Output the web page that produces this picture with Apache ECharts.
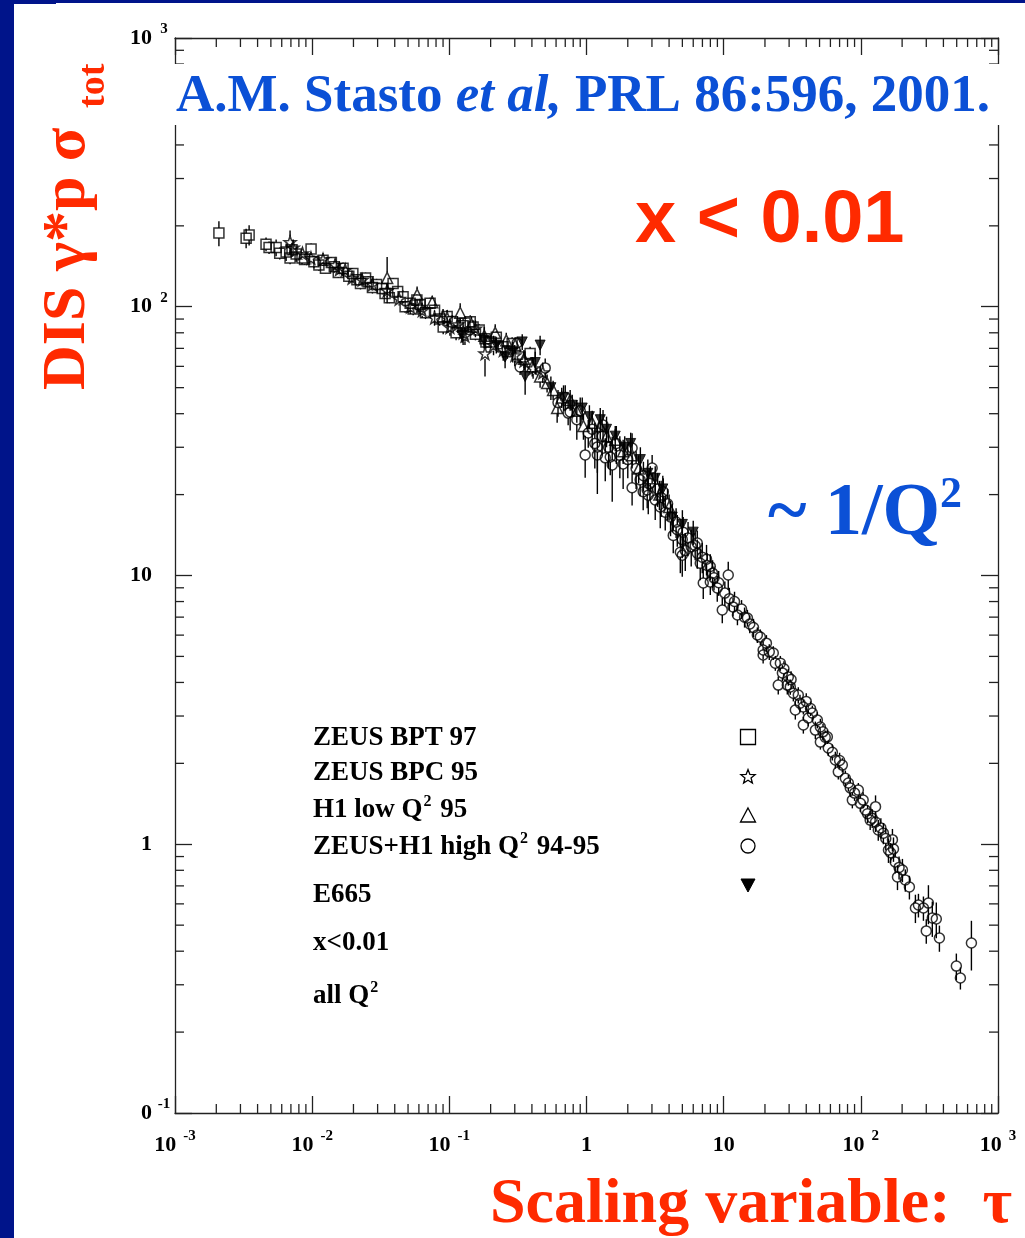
<!DOCTYPE html>
<html>
<head>
<meta charset="utf-8">
<script src="https://cdn.jsdelivr.net/npm/echarts@6/dist/echarts.min.js"></script>
<style>
  html, body { margin: 0; padding: 0; background: #ffffff; }
  #chart { width: 1025px; height: 1238px; }
</style>
</head>
<body>
<div id="chart"></div>
<script>
// Tick labels, one per decade (base text and superscript)
const xTickBase = ['10', '10', '10', '1', '10', '10', '10'];
const xTickSup  = ['-3', '-2', '-1', '', '', '2', '3'];
const yTickBase = ['0', '1', '10', '10', '10'];
const yTickSup  = ['-1', '', '', '2', '3'];

// Measurements: [tau, sigma_tot (micro-barn), error]
const bptData = [
  [0.00209, 188, 20], [0.0033, 180, 15], [0.00347, 185, 16], [0.00461, 171, 10], [0.00485, 166, 9],
  [0.00546, 166, 12], [0.0058, 158, 8], [0.00646, 160, 12], [0.0069, 152, 8], [0.00713, 163, 10],
  [0.00764, 157, 10], [0.00843, 152, 8], [0.0088, 150, 7], [0.00982, 164, 8], [0.0103, 147, 8],
  [0.0112, 143, 7], [0.012, 149, 7], [0.0125, 139, 6], [0.0138, 146, 7], [0.0145, 141, 7],
  [0.0155, 134, 6], [0.0168, 139, 7], [0.0185, 130, 6], [0.0198, 133, 6], [0.0212, 126, 6],
  [0.0225, 122, 6], [0.0245, 128, 6], [0.0256, 124, 6], [0.0275, 118, 6], [0.0295, 121, 6],
  [0.0324, 117, 6], [0.034, 112, 5], [0.0365, 108, 5], [0.0389, 122, 6], [0.042, 114, 5],
  [0.046, 109, 6], [0.0476, 100, 5], [0.0518, 103, 5], [0.0545, 98, 5], [0.058, 106, 5],
  [0.0612, 102, 5], [0.067, 95, 5], [0.0724, 103, 5], [0.078, 97, 5], [0.085, 90, 5],
  [0.0902, 84, 5], [0.0964, 92, 5], [0.105, 88, 5], [0.112, 80, 5], [0.126, 85, 5],
  [0.13, 87, 5], [0.142, 88, 5], [0.149, 84, 5], [0.155, 79, 4], [0.165, 82, 4],
  [0.182, 76, 4], [0.185, 74, 4], [0.2, 74, 4], [0.22, 77, 4], [0.247, 71, 4],
  [0.265, 68, 4], [0.287, 73, 4], [0.328, 65, 4], [0.388, 67, 4]
];
const bpcData = [
  [0.0069, 174, 18], [0.00726, 166, 12], [0.0085, 158, 8], [0.0098, 152, 8], [0.012, 150, 8],
  [0.0147, 143, 8], [0.0158, 138, 7], [0.0174, 137, 7], [0.0195, 128, 6], [0.0231, 126, 7],
  [0.0275, 121, 6], [0.0352, 115, 6], [0.043, 107, 6], [0.052, 100, 6], [0.0612, 100, 6],
  [0.0634, 97, 6], [0.078, 91, 6], [0.0964, 91, 6], [0.101, 84, 6], [0.115, 86, 6],
  [0.126, 80, 8], [0.13, 78, 6], [0.155, 83, 6], [0.182, 67, 12], [0.21, 72, 6],
  [0.247, 69, 6], [0.3, 66, 6], [0.35, 63, 5], [0.408, 59, 5], [0.48, 57, 5]
];
const h1LowData = [
  [0.0352, 128, 25], [0.0582, 111, 8], [0.075, 104, 6], [0.09, 92, 6], [0.12, 95, 8],
  [0.145, 86, 6], [0.18, 78, 6], [0.216, 80, 6], [0.26, 75, 5], [0.302, 72, 5],
  [0.35, 64, 5], [0.402, 60, 5], [0.459, 55, 5], [0.516, 52, 4], [0.571, 49, 4],
  [0.611, 42, 5], [0.66, 46, 4], [0.76, 45, 4], [0.85, 41, 4], [0.95, 36, 4],
  [1.1, 37, 4], [1.26, 36, 4], [1.4, 33, 3], [1.62, 32, 3], [1.85, 29, 3],
  [2.15, 28, 3], [2.4, 25, 3], [2.92, 23, 2.5], [3.4, 20, 2.5], [4.0, 18, 2]
];
const highQ2Data = [
  [0.312, 73.3, 4], [0.328, 59.7, 4], [0.5, 59.2, 5], [0.62, 44, 5], [0.7, 46, 5],
  [0.735, 40.2, 4], [0.76, 40.6, 6], [0.85, 38, 6], [0.9, 41, 5], [0.978, 28.1, 5],
  [1.03, 33.9, 4], [1.1, 35, 5], [1.15, 31, 6], [1.2, 30.1, 6], [1.2, 28.1, 8],
  [1.3, 33, 5], [1.32, 36.3, 5], [1.37, 27.4, 5], [1.45, 30, 5], [1.49, 27.6, 4],
  [1.54, 25.8, 7], [1.65, 31, 5], [1.75, 28, 5], [1.85, 26, 5], [2.0, 27, 4],
  [2.15, 29.8, 4], [2.15, 21.2, 3], [2.3, 25, 4], [2.46, 22.7, 3], [2.59, 20.5, 3],
  [2.6, 23.5, 3], [2.77, 20.8, 3], [2.82, 19.9, 3], [2.9, 22, 3], [3.01, 25.1, 3],
  [3.17, 19.1, 3], [3.3, 21, 3], [3.45, 18.0, 3], [3.5, 19.5, 3], [3.63, 20.5, 2.5],
  [3.75, 17.2, 2.5], [3.9, 18.5, 2.5], [4.1, 16.5, 2.5], [4.29, 14.1, 2], [4.5, 15.8, 2],
  [4.59, 14.8, 2], [4.83, 12.2, 2], [4.99, 13.6, 2], [4.99, 11.9, 2], [5.07, 14.5, 2],
  [5.25, 12.4, 2], [5.5, 13.8, 2], [5.8, 12.8, 2], [6.2, 12.9, 1.5], [6.42, 12.1, 1.5],
  [6.42, 13.2, 1.5], [6.75, 11.1, 1.5], [6.98, 11.7, 1.5], [7.1, 9.38, 1.2], [7.5, 11.5, 1.5],
  [7.59, 10.9, 1.2], [7.99, 10.8, 1.2], [7.99, 9.46, 1], [8.3, 10.2, 1.2], [8.5, 9.8, 1],
  [8.98, 8.98, 1], [9.2, 9.4, 1], [9.77, 7.44, 0.8], [10.2, 8.6, 0.9], [10.8, 10.04, 1.2],
  [11.0, 8.2, 0.8], [11.7, 7.64, 0.6], [12.0, 8.0, 0.7], [12.6, 7.13, 0.6], [13.5, 7.5, 0.6],
  [14.2, 7.0, 0.6], [14.9, 6.95, 0.5], [15.5, 6.6, 0.5], [16.5, 6.4, 0.5], [17.6, 6.01, 0.4],
  [18.5, 5.9, 0.4], [19.4, 5.28, 0.4], [19.4, 5.06, 0.35], [20.5, 5.6, 0.4], [21.5, 5.2, 0.35],
  [23.0, 5.15, 0.3], [23.8, 4.72, 0.3], [25.0, 3.91, 0.3], [25.9, 4.72, 0.3], [26.8, 4.34, 0.3],
  [27.5, 4.5, 0.3], [29.1, 3.91, 0.3], [29.6, 4.19, 0.3], [30.6, 3.85, 0.25], [31.0, 4.1, 0.3],
  [32.2, 3.65, 0.25], [33.3, 3.16, 0.25], [35.0, 3.59, 0.25], [36.0, 3.35, 0.25], [38.1, 3.24, 0.2],
  [38.1, 2.78, 0.2], [40.0, 3.4, 0.25], [41.4, 2.95, 0.2], [43.0, 3.2, 0.2], [44.3, 3.08, 0.2],
  [46.6, 2.66, 0.2], [48.2, 2.9, 0.2], [50.7, 2.73, 0.2], [50.7, 2.4, 0.15], [53.0, 2.62, 0.18],
  [55.0, 2.5, 0.15], [57.0, 2.51, 0.15], [57.9, 2.28, 0.15], [62.0, 2.2, 0.15], [65.2, 2.06, 0.15],
  [68.5, 1.86, 0.12], [70.0, 2.05, 0.14], [73.3, 1.97, 0.12], [77.1, 1.76, 0.12], [81.1, 1.69, 0.12],
  [83.8, 1.62, 0.12], [86.7, 1.46, 0.1], [90.0, 1.55, 0.1], [95.9, 1.59, 0.1], [99.2, 1.42, 0.1],
  [104, 1.46, 0.1], [108, 1.34, 0.1], [112, 1.3, 0.1], [117, 1.23, 0.1], [121, 1.25, 0.1],
  [128, 1.21, 0.1], [128, 1.38, 0.14], [134, 1.13, 0.1], [140, 1.15, 0.1], [146, 1.10, 0.1],
  [152, 1.05, 0.1], [159, 0.952, 0.1], [165, 0.93, 0.08], [170, 1.04, 0.1], [173, 0.96, 0.1],
  [178, 0.859, 0.08], [185, 0.755, 0.08], [190, 0.82, 0.08], [201, 0.802, 0.08], [211, 0.736, 0.07],
  [226, 0.693, 0.07], [250, 0.579, 0.07], [263, 0.594, 0.06], [286, 0.579, 0.06], [300, 0.476, 0.05],
  [311, 0.604, 0.1], [332, 0.532, 0.08], [355, 0.527, 0.08], [374, 0.448, 0.05], [497, 0.352, 0.04],
  [532, 0.318, 0.03], [640, 0.429, 0.09]
];
const e665Data = [
  [0.124, 78.5, 5], [0.179, 75, 5], [0.22, 72, 5], [0.255, 65, 6], [0.29, 68, 6],
  [0.34, 74, 5], [0.357, 55, 8], [0.423, 62, 6], [0.459, 72, 6], [0.55, 50, 5],
  [0.68, 46, 5], [0.787, 43, 4], [0.931, 42, 4], [1.05, 39, 4], [1.26, 38, 4],
  [1.4, 35, 4], [1.62, 33, 3], [1.9, 30, 3], [2.1, 31, 3], [2.47, 27, 3],
  [2.8, 24, 3], [3.17, 23, 2.5], [3.6, 21, 2.5], [4.22, 16.5, 2], [5.0, 15.5, 2], [6.0, 14.5, 1.5]
];

// Legend entries (rich text, 's' marks a superscript)
const legendLabels = ['ZEUS BPT 97', 'ZEUS BPC 95', 'H1 low Q{s|2} 95', 'ZEUS+H1 high Q{s|2} 94-95', 'E665', 'x<0.01', 'all Q{s|2}'];

const SERIF = '"Liberation Serif", "Times New Roman", serif';
const SANS = '"Liberation Sans", Arial, sans-serif';
const RED = '#ff2a00';
const BLUE = '#0b50d6';
const NAVY = '#00148a';
const AXIS = '#222222';
const STAR = 'path://M0,-10L2.35,-3.24L9.51,-3.09L3.8,1.24L5.88,8.09L0,4.2L-5.88,8.09L-3.8,1.24L-9.51,-3.09L-2.35,-3.24Z';

// Minor tick positions for the decades on each axis
const decadeSteps = [2, 3, 4, 5, 6, 7, 8, 9];
const xDecades = [0.001, 0.01, 0.1, 1, 10, 100];
const yDecades = [0.1, 1, 10, 100];
const xMinor = [];
xDecades.forEach(d => decadeSteps.forEach(m => xMinor.push([m * d, 1])));
const yMinor = [];
yDecades.forEach(d => decadeSteps.forEach(m => yMinor.push([1, m * d])));

function decadeIndex(v, lowExp) {
  return Math.round(Math.log10(v)) - lowExp;
}

const tickRich = {
  b: { fontFamily: SERIF, fontWeight: 'bold', fontSize: 22, color: '#000', lineHeight: 32 },
  s: { fontFamily: SERIF, fontWeight: 'bold', fontSize: 15, color: '#000', lineHeight: 16, verticalAlign: 'top', padding: [0, 0, 0, 7] }
};
const yTickRich = {
  b: tickRich.b,
  s: { fontFamily: SERIF, fontWeight: 'bold', fontSize: 15, color: '#000', lineHeight: 16, verticalAlign: 'top', padding: [0, 0, 0, 6], width: 12, align: 'left' }
};

function xLabel(v) {
  const i = decadeIndex(v, -3);
  return xTickSup[i] ? '{b|' + xTickBase[i] + '}{s|' + xTickSup[i] + '}' : '{b|' + xTickBase[i] + '}';
}
function yLabel(v) {
  const i = decadeIndex(v, -1);
  return '{b|' + yTickBase[i] + '}{s|' + (yTickSup[i] || ' ') + '}';
}

function baseAxis(extra) {
  return Object.assign({
    type: 'log', logBase: 10,
    axisLine: { show: true, onZero: false, lineStyle: { color: AXIS, width: 1.3 } },
    axisTick: { show: true, inside: true, length: 17, lineStyle: { color: AXIS, width: 1.3 } },
    splitLine: { show: false },
    minorTick: { show: false },
    silent: true
  }, extra);
}

function minorTickItem(isX) {
  return function (params, api) {
    const cs = params.coordSys;
    const len = 9;
    const st = { stroke: AXIS, lineWidth: 1.3 };
    if (isX) {
      const px = api.coord([api.value(0), 1])[0];
      const top = cs.y, bot = cs.y + cs.height;
      return { type: 'group', children: [
        { type: 'line', shape: { x1: px, y1: bot, x2: px, y2: bot - len }, style: st },
        { type: 'line', shape: { x1: px, y1: top, x2: px, y2: top + len }, style: st }
      ] };
    }
    const py = api.coord([1, api.value(1)])[1];
    const l = cs.x, r = cs.x + cs.width;
    return { type: 'group', children: [
      { type: 'line', shape: { x1: l, y1: py, x2: l + len, y2: py }, style: st },
      { type: 'line', shape: { x1: r, y1: py, x2: r - len, y2: py }, style: st }
    ] };
  };
}

// Vertical error bars, interrupted where the marker sits
function errorBarItem(gap) {
  return function (params, api) {
    const t = api.value(0), s = api.value(1), e = api.value(2);
    const c = api.coord([t, s]);
    const hi = api.coord([t, s + e]);
    const lo = api.coord([t, Math.max(s - e, 1e-3)]);
    const st = { stroke: '#000', lineWidth: 1.4 };
    const kids = [];
    if (hi[1] < c[1] - gap) kids.push({ type: 'line', shape: { x1: c[0], y1: hi[1], x2: c[0], y2: c[1] - gap }, style: st });
    if (lo[1] > c[1] + gap) kids.push({ type: 'line', shape: { x1: c[0], y1: c[1] + gap, x2: c[0], y2: lo[1] }, style: st });
    return { type: 'group', children: kids };
  };
}

function errSeries(data, gap) {
  return {
    type: 'custom', renderItem: errorBarItem(gap), data: data,
    encode: { x: 0, y: 1 }, silent: true, z: 2, clip: false
  };
}
function markSeries(name, data, symbol, size, filled, rotate) {
  return {
    name: name, type: 'scatter', data: data.map(d => [d[0], d[1]]),
    symbol: symbol, symbolSize: size, symbolRotate: rotate || 0,
    itemStyle: filled
      ? { color: '#000', borderColor: '#000', borderWidth: 1 }
      : { color: 'rgba(0,0,0,0)', borderColor: '#000', borderWidth: 1.5 },
    silent: true, z: 3
  };
}

const chart = echarts.init(document.getElementById('chart'), null, { renderer: 'canvas' });

// Legend markers at the right of the text block
const lx = 748;
const mk = { stroke: '#000', lineWidth: 1.3, fill: 'rgba(0,0,0,0)' };
const starPts = [];
for (let k = 0; k < 10; k++) {
  const a = -Math.PI / 2 + k * Math.PI / 5;
  const r = k % 2 === 0 ? 7.5 : 3.2;
  starPts.push([lx + r * Math.cos(a), 777 + r * Math.sin(a)]);
}

const graphics = [
  { type: 'rect', shape: { x: 0, y: 0, width: 14, height: 1238 }, style: { fill: NAVY }, z: 200 },
  { type: 'rect', shape: { x: 0, y: 0, width: 1025, height: 3 }, style: { fill: NAVY }, z: 200 },
  { type: 'rect', shape: { x: 14, y: 0, width: 42, height: 4 }, style: { fill: NAVY }, z: 200 },
  // band behind the reference line, interrupting the frame
  { type: 'rect', shape: { x: 168, y: 64, width: 840, height: 61 }, style: { fill: '#ffffff' }, z: 100 },
  {
    type: 'text', x: 176, y: 97, z: 101,
    style: {
      text: '{n|A.M. Stasto }{i|et al,}{n| PRL 86:596, 2001.}',
      verticalAlign: 'middle', align: 'left',
      rich: {
        n: { fontFamily: SERIF, fontWeight: 'bold', fontSize: 53, fill: BLUE, color: BLUE },
        i: { fontFamily: SERIF, fontWeight: 'bold', fontStyle: 'italic', fontSize: 53, fill: BLUE, color: BLUE }
      }
    }
  },
  {
    type: 'text', x: 635, y: 222, z: 101,
    style: { text: 'x < 0.01', fontFamily: SANS, fontWeight: 'bold', fontSize: 74, fill: RED, align: 'left', verticalAlign: 'middle' }
  },
  {
    type: 'text', x: 768, y: 515, z: 101,
    style: {
      text: '{m|~ 1/Q}{s|2}', align: 'left', verticalAlign: 'middle',
      rich: {
        m: { fontFamily: SERIF, fontWeight: 'bold', fontSize: 74, lineHeight: 82, fill: BLUE, color: BLUE },
        s: { fontFamily: SERIF, fontWeight: 'bold', fontSize: 44, lineHeight: 44, verticalAlign: 'top', fill: BLUE, color: BLUE }
      }
    }
  },
  {
    type: 'text', x: 490, y: 1205, z: 101,
    style: { text: 'Scaling variable:  \u03c4', fontFamily: SERIF, fontWeight: 'bold', fontSize: 64, fill: RED, align: 'left', verticalAlign: 'middle' }
  },
  {
    type: 'text', x: 68, y: 390, rotation: Math.PI / 2, z: 101,
    style: { text: 'DIS \u03b3*p \u03c3', fontFamily: SERIF, fontWeight: 'bold', fontSize: 62, fill: RED, align: 'left', verticalAlign: 'middle' }
  },
  {
    type: 'text', x: 94, y: 108, rotation: Math.PI / 2, z: 101,
    style: { text: 'tot', fontFamily: SERIF, fontWeight: 'bold', fontSize: 38, fill: RED, align: 'left', verticalAlign: 'middle' }
  },
  { type: 'rect', shape: { x: lx - 7.5, y: 737 - 7.5, width: 15, height: 15 }, style: mk, z: 101 },
  { type: 'polygon', shape: { points: starPts }, style: mk, z: 101 },
  { type: 'polygon', shape: { points: [[lx, 808], [lx + 7.5, 822], [lx - 7.5, 822]] }, style: mk, z: 101 },
  { type: 'circle', shape: { cx: lx, cy: 846, r: 7 }, style: mk, z: 101 },
  { type: 'polygon', shape: { points: [[lx - 7, 879], [lx + 7, 879], [lx, 892]] }, style: { fill: '#000', stroke: '#000', lineWidth: 1 }, z: 101 }
];
const legendY = [738, 773, 810, 847, 895, 943, 996];
legendLabels.forEach((t, i) => {
  graphics.push({
    type: 'text', x: 313, y: legendY[i], z: 101,
    style: {
      text: '{n|' + t.replace(/\{s\|2\}/g, '}{s|2}{n|') + '}', align: 'left', verticalAlign: 'middle',
      rich: {
        n: { fontFamily: SERIF, fontWeight: 'bold', fontSize: 27, lineHeight: 32, fill: '#000', color: '#000' },
        s: { fontFamily: SERIF, fontWeight: 'bold', fontSize: 16, lineHeight: 17, verticalAlign: 'top', fill: '#000', color: '#000', padding: [0, 2, 0, 1] }
      }
    }
  });
});

chart.setOption({
  animation: false,
  backgroundColor: '#ffffff',
  grid: { left: 175, right: 27, top: 38, bottom: 125, containLabel: false },
  xAxis: [
    baseAxis({ min: 0.001, max: 1000, splitNumber: 6, position: 'bottom',
      axisLabel: { show: true, margin: 16, showMinLabel: true, showMaxLabel: true, hideOverlap: false, formatter: xLabel, rich: tickRich } }),
    baseAxis({ min: 0.001, max: 1000, splitNumber: 6, position: 'top', axisLabel: { show: false } })
  ],
  yAxis: [
    baseAxis({ min: 0.1, max: 1000, splitNumber: 4, position: 'left',
      axisLabel: { show: true, margin: 5, showMinLabel: true, showMaxLabel: true, hideOverlap: false, formatter: yLabel, rich: yTickRich } }),
    baseAxis({ min: 0.1, max: 1000, splitNumber: 4, position: 'right', axisLabel: { show: false } })
  ],
  series: [
    { type: 'custom', renderItem: minorTickItem(true), data: xMinor, encode: { x: 0, y: 1 }, silent: true, clip: false, z: 1 },
    { type: 'custom', renderItem: minorTickItem(false), data: yMinor, encode: { x: 0, y: 1 }, silent: true, clip: false, z: 1 },
    errSeries(bptData, 5),
    errSeries(bpcData, 5.5),
    errSeries(h1LowData, 5.5),
    errSeries(highQ2Data, 5),
    errSeries(e665Data, 0),
    markSeries('ZEUS BPT 97', bptData, 'rect', 10, false),
    markSeries('ZEUS BPC 95', bpcData, STAR, 12, false),
    markSeries('H1 low Q2 95', h1LowData, 'triangle', 11, false),
    markSeries('ZEUS+H1 high Q2 94-95', highQ2Data, 'circle', 10, false),
    markSeries('E665', e665Data, 'triangle', 10, true, 180)
  ],
  graphic: { elements: graphics }
});
</script>
</body>
</html>
